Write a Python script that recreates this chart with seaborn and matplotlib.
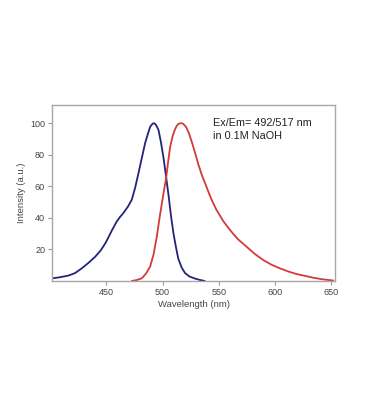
import matplotlib
matplotlib.use("Agg")
import matplotlib.pyplot as plt
import seaborn as sns
import pandas as pd

# Excitation spectrum (blue)
ex_wl = [401.5, 408, 416, 422, 428, 434, 440, 445, 449, 452, 455, 459, 462, 465, 469, 472.5, 475.5, 478.5, 481.5,
         484.4, 487, 489, 491, 492.4, 494, 496.3, 498.5, 500.8, 503.3, 505.5, 507.5, 509.7, 512, 514, 517,
         520, 524, 529, 533, 537.6]
ex_int = [1.7, 2.3, 3.4, 5.0, 8.0, 11.5, 15.4, 19.5, 23.9, 28, 32.3, 37.5, 40.5, 43, 47, 51.4, 59, 68.3, 78,
          87.3, 93.5, 97.8, 99.6, 100, 99, 95.8, 88, 78, 65, 53, 41, 30, 21, 14, 8.5,
          5.0, 2.8, 1.5, 0.7, 0]

# Emission spectrum (red)
em_wl = [472.5, 477, 481.5, 485, 488.9, 492, 494.8, 497.5, 500.8, 503.1, 505, 506.7, 509, 511, 512.7, 514.5,
         516.5, 518.5, 521, 523.5, 526.5, 529, 531.7, 535, 539, 543, 548, 554, 560, 567, 574.8, 582,
         589.6, 597, 604.5, 612, 619.3, 627, 634, 643, 652]
em_int = [0, 0.6, 1.7, 4.5, 9.1, 17, 28, 41, 55.6, 65, 76, 85, 92, 96, 98.5, 99.7,
          100, 99.5, 97.5, 93.5, 87, 81, 74.2, 67, 59.8, 52.5, 45, 38, 32.3, 26.5, 21.7, 17.2,
          13.3, 10.3, 8.0, 6.0, 4.4, 3.2, 2.1, 1.0, 0.3]

x_ticks = [450, 500, 550, 600, 650]
y_ticks = [20, 40, 60, 80, 100]

sns.set_theme(style="white")
plt.rcParams['font.family'] = ['Liberation Sans', 'DejaVu Sans']

fig = plt.figure(figsize=(3.69, 4.20), dpi=100)
ax = fig.add_axes([0.141, 0.331, 0.767, 0.419])

ex_df = pd.DataFrame({"wl": ex_wl, "val": ex_int})
em_df = pd.DataFrame({"wl": em_wl, "val": em_int})
sns.lineplot(data=ex_df, x="wl", y="val", ax=ax, color="#23237a", linewidth=1.3, sort=False)
sns.lineplot(data=em_df, x="wl", y="val", ax=ax, color="#d43a3a", linewidth=1.3, sort=False)

ax.set_xlim(401.5, 653.6)
ax.set_ylim(0, 111.5)
ax.set_xticks(x_ticks)
ax.set_yticks(y_ticks)
ax.tick_params(axis='both', which='both', direction='out', length=3, width=0.8,
               colors='#999999', labelcolor='#444444', labelsize=6.5, pad=2,
               bottom=True, left=True)
for s in ax.spines.values():
    s.set_color('#a8a8a8')
    s.set_linewidth(1.0)

ax.set_xlabel("Wavelength (nm)", fontsize=6.8, color='#444444', labelpad=2)
ax.set_ylabel("Intensity (a.u.)", fontsize=6.8, color='#444444', labelpad=3)

ax.text(0.568, 0.925, "Ex/Em= 492/517 nm\nin 0.1M NaOH", transform=ax.transAxes,
        fontsize=7.8, color='#222222', va='top', ha='left', linespacing=1.3)

fig.savefig("out.png", dpi=100, facecolor='white')
